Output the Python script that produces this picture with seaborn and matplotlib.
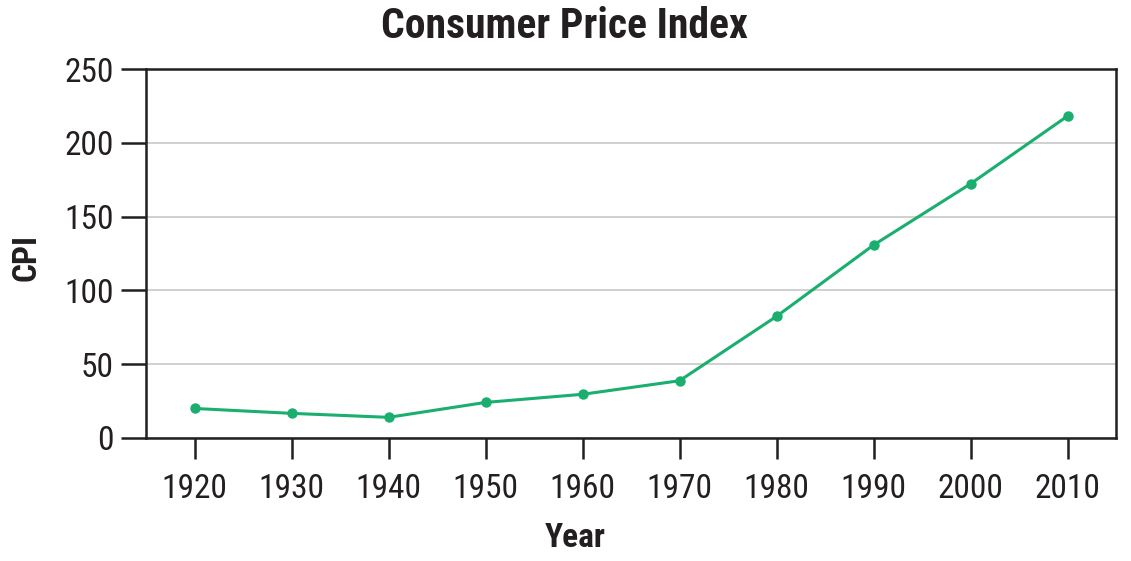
import numpy as np
import pandas as pd
import matplotlib
matplotlib.use("Agg")
import matplotlib.pyplot as plt
import seaborn as sns

years = [1920, 1930, 1940, 1950, 1960, 1970, 1980, 1990, 2000, 2010]
cpi = [20.0, 16.7, 14.0, 24.1, 29.6, 38.8, 82.4, 130.7, 172.2, 218.1]
y_ticks = [0, 50, 100, 150, 200, 250]

sns.set_theme(style="white")
plt.rcParams['font.family'] = ['Roboto Condensed', 'DejaVu Sans']
plt.rcParams['font.stretch'] = 'condensed'

df = pd.DataFrame({"Year": years, "CPI": cpi})

fig = plt.figure(figsize=(11.31, 5.61), dpi=100)
ax = fig.add_axes([146 / 1131, 1 - 438 / 561, 970 / 1131, 369 / 561])

green = "#1aae6f"
ink = "#231f20"
sns.lineplot(data=df, x="Year", y="CPI", ax=ax, color=green, linewidth=2.2,
             marker="o", markersize=7.5, markeredgewidth=0)

ax.set_xlim(1915, 2015)
ax.set_ylim(0, 250)
ax.set_xticks(years)
ax.set_yticks(y_ticks)
ax.yaxis.grid(True, color="#c4c4c4", linewidth=1.1)
ax.xaxis.grid(False)
ax.set_axisbelow(True)

for s in ax.spines.values():
    s.set_color(ink)
    s.set_linewidth(1.8)

ax.tick_params(axis="both", which="major", direction="out", colors=ink,
               labelsize=24, width=1.8, bottom=True, left=True)
ax.tick_params(axis="x", length=15, pad=10)
ax.tick_params(axis="y", length=18, pad=5)

ax.set_xlabel("Year", fontsize=24, fontweight="bold", color=ink)
ax.xaxis.set_label_coords(0.442, -0.228)
ax.set_ylabel("CPI", fontsize=24, fontweight="bold", color=ink)
ax.yaxis.set_label_coords(-0.107, 0.49)
ax.set_title("Consumer Price Index", fontsize=30, fontweight="bold", color=ink,
             x=0.431, pad=22)

fig.savefig("out.png", dpi=100)
